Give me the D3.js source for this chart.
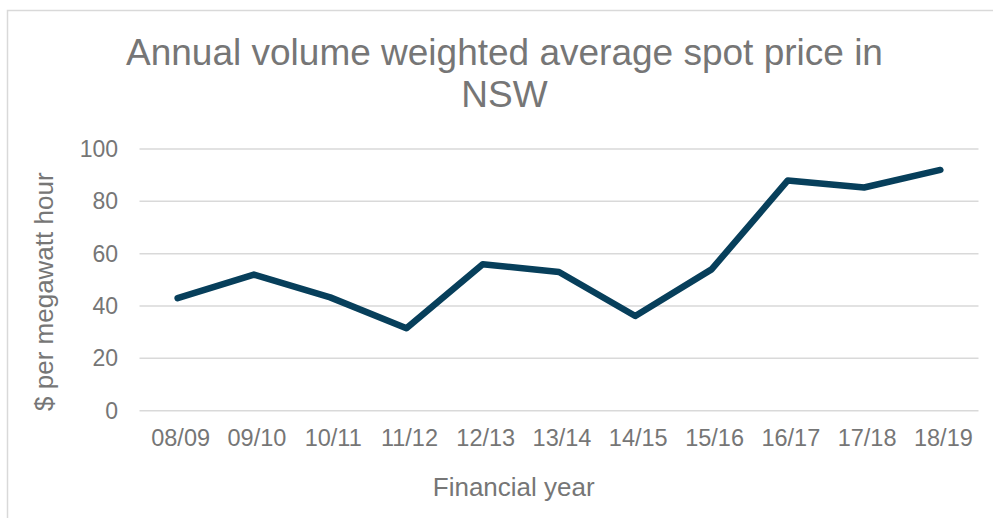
<!DOCTYPE html>
<html><head><meta charset="utf-8">
<script src="https://cdn.jsdelivr.net/npm/d3@7"></script>
<style>body{margin:0;background:#fff;} svg{display:block;}</style>
</head><body>
<script>
const years = ["08/09","09/10","10/11","11/12","12/13","13/14","14/15","15/16","16/17","17/18","18/19"];
const prices = [43, 52, 43.3, 31.5, 56, 53, 36.2, 54, 88, 85.3, 92];
const yTicks = [0, 20, 40, 60, 80, 100];
const titleLines = ["Annual volume weighted average spot price in", "NSW"];
const xTitle = "Financial year";
const yTitle = "$ per megawatt hour";

const W = 993, H = 518;
const textColor = "#767676";
const font = "'Liberation Sans', Arial, sans-serif";

const svg = d3.select("body").append("svg").attr("width", W).attr("height", H);
svg.append("rect").attr("width", W).attr("height", H).attr("fill", "#fff");
svg.append("rect").attr("x", 7.5).attr("y", 10.5).attr("width", W + 10).attr("height", H)
  .attr("fill", "none").attr("stroke", "#d9d9d9").attr("stroke-width", 1.5);

const x = d3.scaleBand().domain(years).range([139.5, 978.5]);
const y = d3.scaleLinear().domain([0, 100]).range([410.7, 149]);

// gridlines
svg.append("g").selectAll("line").data(yTicks).join("line")
  .attr("x1", 139.5).attr("x2", 978.5)
  .attr("y1", d => y(d)).attr("y2", d => y(d))
  .attr("stroke", "#d9d9d9").attr("stroke-width", 1.5);

// y axis
const yAxis = svg.append("g").attr("transform", "translate(126,0)")
  .call(d3.axisLeft(y).tickValues(yTicks).tickSize(0).tickPadding(8));
yAxis.select(".domain").remove();
yAxis.selectAll("text").attr("fill", textColor).attr("font-family", font).attr("font-size", 23);

// x axis
const xAxis = svg.append("g").attr("transform", "translate(3,421)")
  .call(d3.axisBottom(x).tickSize(0).tickPadding(8));
xAxis.select(".domain").remove();
xAxis.selectAll("text").attr("fill", textColor).attr("font-family", font).attr("font-size", 23.5);

// line
const line = d3.line()
  .x((d, i) => x(years[i]) + x.bandwidth() / 2)
  .y(d => y(d));
svg.append("path").datum(prices)
  .attr("d", line).attr("fill", "none")
  .attr("stroke", "#073f5b").attr("stroke-width", 6.5)
  .attr("stroke-linecap", "round").attr("stroke-linejoin", "round");

// title
svg.append("g").selectAll("text").data(titleLines).join("text")
  .attr("x", 504.5).attr("y", (d, i) => 65 + i * 42)
  .attr("text-anchor", "middle").attr("fill", textColor)
  .attr("font-family", font).attr("font-size", 37).text(d => d);

// axis titles
svg.append("text").attr("x", 513.7).attr("y", 496)
  .attr("text-anchor", "middle").attr("fill", textColor)
  .attr("font-family", font).attr("font-size", 26).text(xTitle);

svg.append("text").attr("transform", "translate(53,291.7) rotate(-90)")
  .attr("text-anchor", "middle").attr("fill", textColor)
  .attr("font-family", font).attr("font-size", 26).text(yTitle);
</script>
</body></html>
